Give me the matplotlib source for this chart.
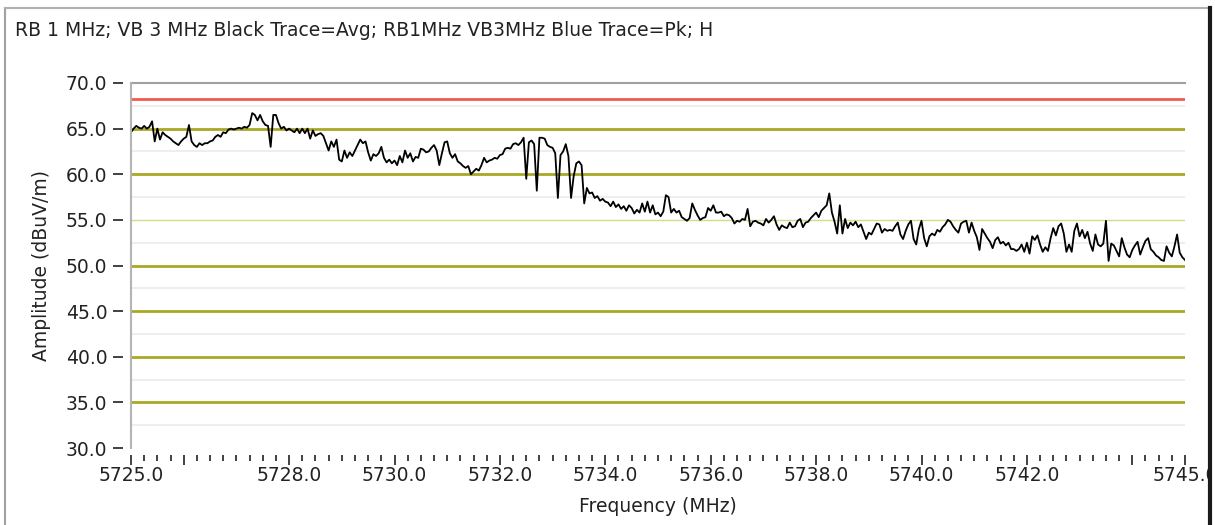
import numpy as np
import matplotlib
matplotlib.use("Agg")
import matplotlib.pyplot as plt
from matplotlib.lines import Line2D
from matplotlib.ticker import FixedLocator, MultipleLocator
from matplotlib.transforms import Bbox

# averaged trace, 0.05 MHz steps from 5725.0 to 5745.0
amp = [
    64.6, 65.0, 65.3, 65.1, 65.0, 65.3, 65.0, 65.2, 65.8, 63.6, 65.0, 63.8, 64.6, 64.3, 64.1, 63.9, 63.6, 63.4, 63.2, 63.6,
    63.9, 64.1, 65.4, 63.6, 63.2, 63.0, 63.4, 63.2, 63.4, 63.4, 63.6, 63.7, 64.1, 64.3, 64.1, 64.6, 64.5, 64.9, 65.0, 64.9,
    65.0, 65.1, 65.0, 65.2, 65.1, 65.4, 66.7, 66.5, 65.9, 66.5, 65.8, 65.4, 65.3, 63.0, 66.5, 66.5, 65.6, 65.0, 65.2, 64.8,
    65.0, 64.8, 64.6, 65.0, 64.5, 65.0, 64.5, 65.0, 63.9, 64.8, 64.2, 64.4, 64.5, 64.2, 63.4, 62.6, 63.6, 63.0, 63.8, 61.6,
    61.4, 62.6, 61.8, 62.4, 62.0, 62.6, 63.2, 63.8, 63.4, 63.6, 62.4, 61.5, 62.2, 62.0, 62.3, 63.0, 61.8, 61.3, 61.6, 61.2,
    61.5, 61.0, 62.0, 61.3, 62.6, 61.8, 62.3, 61.4, 61.9, 61.8, 62.8, 62.7, 62.4, 62.5, 62.9, 63.2, 62.6, 61.0, 62.3, 63.5,
    63.6, 62.3, 61.8, 62.2, 61.4, 61.2, 60.9, 60.7, 60.9, 60.0, 60.3, 60.6, 60.4, 61.0, 61.8, 61.3, 61.5, 61.6, 61.8, 61.7,
    62.1, 62.2, 62.8, 62.9, 62.8, 63.3, 63.4, 63.2, 63.5, 64.0, 59.5, 63.5, 63.7, 63.3, 58.2, 64.0, 64.0, 63.9, 63.2, 63.0,
    62.9, 62.3, 57.4, 62.1, 62.5, 63.3, 62.0, 57.4, 59.8, 61.2, 61.4, 61.0, 56.8, 58.5, 57.9, 58.0, 57.4, 57.6, 57.1, 57.3,
    57.0, 56.9, 56.5, 57.0, 56.4, 56.7, 56.2, 56.5, 56.0, 56.6, 56.3, 55.7, 56.1, 55.8, 56.8, 55.9, 57.0, 55.8, 56.6, 55.6,
    55.8, 55.4, 55.9, 57.7, 57.5, 55.8, 56.2, 55.8, 56.0, 55.3, 55.1, 54.9, 55.2, 56.8, 56.1, 55.5, 55.0, 55.2, 55.3, 56.3,
    56.0, 56.6, 55.8, 55.8, 55.9, 55.4, 55.6, 55.5, 55.2, 54.6, 54.9, 54.8, 55.1, 55.0, 56.2, 54.3, 54.8, 54.9, 54.7, 54.6,
    54.4, 55.1, 54.7, 55.0, 55.4, 54.5, 53.9, 54.4, 54.2, 54.1, 54.7, 54.2, 54.3, 54.9, 55.1, 54.2, 54.7, 54.8, 55.2, 55.5,
    55.8, 55.3, 56.0, 56.3, 56.6, 57.9, 55.8, 54.8, 53.5, 56.6, 53.5, 55.1, 54.1, 54.7, 54.4, 54.8, 54.2, 54.5, 53.7, 52.9,
    53.6, 53.4, 54.0, 54.6, 54.5, 53.6, 54.0, 53.8, 53.9, 53.8, 54.3, 54.7, 53.4, 52.9, 53.8, 54.5, 54.9, 52.9, 52.3, 54.0,
    54.9, 53.0, 52.1, 53.2, 53.5, 53.3, 53.9, 53.7, 54.2, 54.5, 55.0, 54.8, 54.3, 53.9, 53.6, 54.6, 54.8, 54.9, 53.6, 54.7,
    53.8, 53.1, 51.7, 54.0, 53.5, 53.0, 52.6, 51.9, 52.8, 53.1, 52.4, 52.6, 52.2, 52.5, 51.8, 51.8, 51.6, 51.8, 52.3, 51.5,
    52.5, 51.3, 53.2, 52.8, 53.3, 52.3, 51.5, 52.0, 51.6, 53.0, 54.1, 53.3, 54.3, 54.6, 53.5, 51.5, 52.3, 51.5, 53.8, 54.6,
    53.2, 53.9, 53.0, 53.7, 52.4, 51.6, 53.4, 52.3, 52.1, 52.4, 54.9, 50.5, 52.4, 52.2, 51.6, 51.0, 53.0, 52.0, 51.2, 50.9,
    51.7, 52.2, 52.6, 51.2, 52.0, 52.7, 53.0, 51.8, 51.5, 51.1, 50.9, 50.6, 50.5, 52.1, 51.4, 51.0, 52.1, 53.4, 51.4, 50.9,
    50.6,
]
freq = np.linspace(5725.0, 5745.0, len(amp))

limit_line = 68.2
olive_levels = [65, 60, 50, 45, 40, 35]
thin_levels = [55]
gray_levels = [67.5, 62.5, 57.5, 52.5, 47.5, 42.5, 37.5, 32.5]

xmajor = [5725, 5726, 5728, 5730, 5732, 5734, 5736, 5738, 5740, 5742, 5744, 5745]
xlabels = ["5725.0", "", "5728.0", "5730.0", "5732.0", "5734.0", "5736.0",
           "5738.0", "5740.0", "5742.0", "", "5745.0"]
yticks = [30, 35, 40, 45, 50, 55, 60, 65, 70]

title = "RB 1 MHz; VB 3 MHz Black Trace=Avg; RB1MHz VB3MHz Blue Trace=Pk; H"

FS = 13.5
TXT = "#222222"
W, H = 1215, 525
fig = plt.figure(figsize=(W / 100, H / 100), dpi=100)
ax = fig.add_axes([131 / W, 1 - 448 / H, (1185 - 131) / W, (448 - 83) / H])

for lv in gray_levels:
    ax.axhline(lv, color="#eeeeee", lw=1.5, zorder=1)
for lv in thin_levels:
    ax.axhline(lv, color="#d6da8e", lw=1.0, zorder=1)
for lv in olive_levels:
    ax.axhline(lv, color="#a9a824", lw=2.0, zorder=2)
ax.axhline(limit_line, color="#f25a4e", lw=2.0, zorder=2)

ax.plot(freq, amp, color="black", lw=1.3, zorder=3)

ax.set_xlim(5725, 5745)
ax.set_ylim(30, 70)

# gray frame line on the left, ticks sit a little away from the plot
ax.add_line(Line2D([0, 0], [0, 1], transform=ax.transAxes, color="#b4b4b4",
                   lw=1.5, clip_on=False, zorder=4))
ax.spines["right"].set_visible(False)
ax.spines["top"].set_color("#a0a0a0")
ax.spines["top"].set_linewidth(1.5)
ax.spines["left"].set_position(("outward", 6))
ax.spines["left"].set_color("none")
ax.spines["bottom"].set_position(("outward", 5))
ax.spines["bottom"].set_color("none")

ax.xaxis.set_major_locator(FixedLocator(xmajor))
ax.set_xticklabels(xlabels)
ax.xaxis.set_minor_locator(MultipleLocator(0.25))
ax.set_yticks(yticks)
ax.set_yticklabels([f"{v:.1f}" for v in yticks])

ax.tick_params(axis="x", which="major", length=7, width=1.3, color="#333333",
               labelsize=FS, pad=1, labelcolor=TXT)
ax.tick_params(axis="x", which="minor", length=4, width=1.3, color="#333333")
ax.tick_params(axis="y", which="major", length=7, width=1.3, color="#333333",
               labelsize=FS, pad=4, labelcolor=TXT)

ax.set_xlabel("Frequency (MHz)", fontsize=FS, color=TXT)
ax.set_ylabel("Amplitude (dBuV/m)", fontsize=FS, color=TXT)
ax.xaxis.set_label_coords(0.5, -0.135)
ax.yaxis.set_label_coords(-0.076, 0.5)

# the last label runs into the panel frame, as in the original
last = ax.get_xticklabels()[-1]
last.set_clip_box(Bbox.from_extents(0, 0, 1208, H))
last.set_clip_on(True)

fig.text(15 / W, 1 - 30 / H, title, fontsize=FS, color=TXT, va="center", ha="left")

# frame round the whole panel
fig.add_artist(Line2D([5 / W, 5 / W], [0, 1 - 8 / H], color="#a0a0a0", lw=1.5))
fig.add_artist(Line2D([5 / W, 1210 / W], [1 - 8 / H, 1 - 8 / H], color="#b0b0b0", lw=1.5))
fig.add_artist(Line2D([1210 / W, 1210 / W], [0, 1 - 8 / H], color="#1a1a1a", lw=3))

fig.savefig("out.png", dpi=100)
